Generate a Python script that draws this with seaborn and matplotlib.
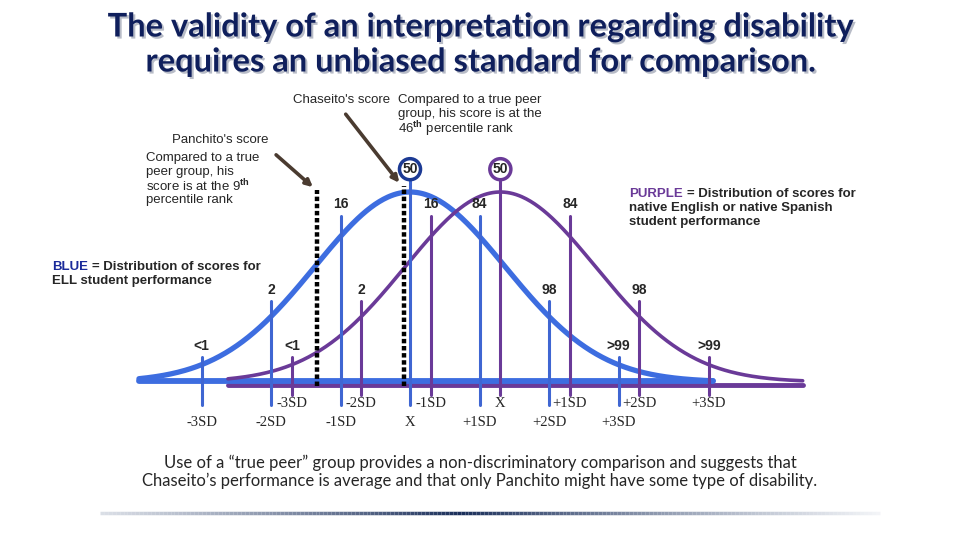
import numpy as np
import pandas as pd
import matplotlib.pyplot as plt
import matplotlib.patheffects as pe
from matplotlib.collections import LineCollection
import seaborn as sns

# scores expressed in SD units of the ELL (blue) distribution
sd_steps = [-3, -2, -1, 0, 1, 2, 3]
percentiles = ['<1', '2', '16', '50', '84', '98', '>99']
sd_labels = ['-3SD', '-2SD', '-1SD', 'X', '+1SD', '+2SD', '+3SD']
blue_mean = 0.0
purple_mean = 1.3
curve_spread = 1.37
blue_range = (-3.9, 4.36)
purple_range = (-2.62, 5.65)
panchito_score = -1.34
chaseito_score = -0.09

BLUE = '#3d6de0'
BLUE_LINE = '#3f66d2'
PURPLE = '#6a3a98'
NAVY = '#0f1f5c'
ARROW = '#4a3b30'

# label lift above the curve for each SD step (layout only)
LIFT = [0.10, 0.14, 0.17, 0.12, 0.17, 0.14, 0.10]

sns.set_theme(style='white')
plt.rcParams['font.family'] = ['Liberation Sans', 'DejaVu Sans']
plt.rcParams['mathtext.fontset'] = 'custom'
plt.rcParams['mathtext.rm'] = 'Liberation Sans'
plt.rcParams['mathtext.bf'] = 'Liberation Sans:bold'

fig = plt.figure(figsize=(9.6, 5.4), dpi=100)
ax = fig.add_axes([0, 0, 1, 1])
ax.set_xlim(-410 / 69.5, 550 / 69.5)
ax.set_ylim(-158 / 190, 382 / 190)
ax.axis('off')


def curve(x, mu):
    return np.exp(-(x - mu) ** 2 / (2 * curve_spread ** 2))


xb = np.linspace(*blue_range, 400)
xp = np.linspace(*purple_range, 400)
df = pd.concat([
    pd.DataFrame({'x': xb, 'y': curve(xb, blue_mean), 'group': 'ELL'}),
    pd.DataFrame({'x': xp, 'y': curve(xp, purple_mean), 'group': 'native'}),
])

# baselines
ax.plot(purple_range, [-0.015, -0.015], color=PURPLE, lw=3.5, zorder=2, solid_capstyle='round')
ax.plot(blue_range, [0.005, 0.005], color=BLUE, lw=4.2, zorder=3, solid_capstyle='round')

sns.lineplot(data=df[df.group == 'native'], x='x', y='y', color=PURPLE, lw=2.6, ax=ax,
             sort=False, zorder=4, legend=False)
sns.lineplot(data=df[df.group == 'ELL'], x='x', y='y', color=BLUE, lw=3.8, ax=ax,
             sort=False, zorder=3, legend=False)
ax.set_xlabel('')
ax.set_ylabel('')

# SD marker lines and labels
for mu, col, bottom, lab_y in [(blue_mean, BLUE_LINE, -0.12, -0.215), (purple_mean, PURPLE, -0.07, -0.115)]:
    for k, pct, sdl, lift in zip(sd_steps, percentiles, sd_labels, LIFT):
        x = mu + k
        ytxt = curve(x, mu) + lift
        ax.plot([x, x], [bottom, ytxt - 0.06], color=col, lw=2.2, zorder=5)
        if pct == '50':
            ax.text(x, ytxt, pct, ha='center', va='center', fontsize=10, fontweight='bold',
                    zorder=7, bbox=dict(boxstyle='circle,pad=0.2', fc='white',
                                        ec='#1c3a94' if col == BLUE_LINE else PURPLE, lw=2.5))
        else:
            ax.text(x, ytxt, pct, ha='center', va='center', fontsize=10, fontweight='bold', zorder=7)
        ax.text(x, lab_y, sdl, ha='center', va='center', fontsize=10.5, family='Liberation Serif')

# student scores
for s, top in [(panchito_score, 1.01), (chaseito_score, 1.03)]:
    ax.plot([s, s], [-0.02, top], color='black', lw=3.2, ls=(0, (1, 0.6)), zorder=6)


def fx(px):
    return px / 960


def fy(py):
    return 1 - py / 540


def lines(x, y0, step, rows, **kw):
    for i, r in enumerate(rows):
        fig.text(fx(x), fy(y0 + step * i), r, ha='left', va='center', **kw)


ax.annotate('', xy=(fx(315), fy(189)), xytext=(fx(274), fy(153)), xycoords='figure fraction',
            arrowprops=dict(arrowstyle='-|>', color=ARROW, lw=2.6, mutation_scale=10))
ax.annotate('', xy=(fx(401), fy(185)), xytext=(fx(344), fy(112)), xycoords='figure fraction',
            arrowprops=dict(arrowstyle='-|>', color=ARROW, lw=2.6, mutation_scale=10))

# title
for i, line in enumerate(['The validity of an interpretation regarding disability',
                          'requires an unbiased standard for comparison.']):
    fig.text(0.5, fy(27 + 35 * i), line, ha='center', va='center', fontsize=23.5, fontweight='bold',
             family='Lato', color=NAVY,
             path_effects=[pe.withSimplePatchShadow(offset=(1.5, -1.5), shadow_rgbFace='#9aa0b0', alpha=0.7)])

# annotations
fig.text(fx(390), fy(100), "Chaseito's score", ha='right', va='center', fontsize=9.5)
lines(398, 100, 14.5, ['Compared to a true peer', 'group, his score is at the',
                       '46$^{\\mathbf{th}}$ percentile rank'], fontsize=9.5)
fig.text(fx(268), fy(140), "Panchito's score", ha='right', va='center', fontsize=9.5)
lines(146, 158, 14, ['Compared to a true', 'peer group, his', 'score is at the 9$^{\\mathbf{th}}$',
                     'percentile rank'], fontsize=9.5)


def key_text(x, y, word, color, rest):
    t = fig.text(fx(x), fy(y), word, ha='left', va='center', fontsize=9.5, fontweight='bold', color=color)
    fig.add_artist(plt.Annotation(rest, xy=(1, 0.5), xycoords=t, xytext=(3, 0), textcoords='offset points',
                                  ha='left', va='center', fontsize=9.5, fontweight='bold'))


key_text(629, 194, 'PURPLE', PURPLE, '= Distribution of scores for')
lines(629, 208, 13.5, ['native English or native Spanish', 'student performance'],
      fontsize=9.5, fontweight='bold')
key_text(52, 267, 'BLUE', '#1a2a9a', '= Distribution of scores for')
lines(52, 281, 13.5, ['ELL student performance'], fontsize=9.5, fontweight='bold')

fig.text(0.5, fy(472), 'Use of a \u201ctrue peer\u201d group provides a non-discriminatory comparison and suggests that\n'
         'Chaseito\u2019s performance is average and that only Panchito might have some type of disability.',
         ha='center', va='center', fontsize=12, family='Lato', linespacing=1.1)

# bottom gradient rule
gx = np.linspace(100, 880, 200)
segs = [[(fx(a), fy(513)), (fx(b), fy(513))] for a, b in zip(gx[:-1], gx[1:])]
mid = 0.5 * (gx[:-1] + gx[1:])
w = np.clip(1 - np.abs(mid - 460) / 420, 0, 1) ** 0.8
cols = [(0.1 + 0.78 * (1 - t), 0.18 + 0.72 * (1 - t), 0.35 + 0.58 * (1 - t), 0.35 + 0.65 * t) for t in w]
fig.add_artist(LineCollection(segs, colors=cols, linewidths=2.5, transform=fig.transFigure))

fig.savefig('out.png', dpi=100)
